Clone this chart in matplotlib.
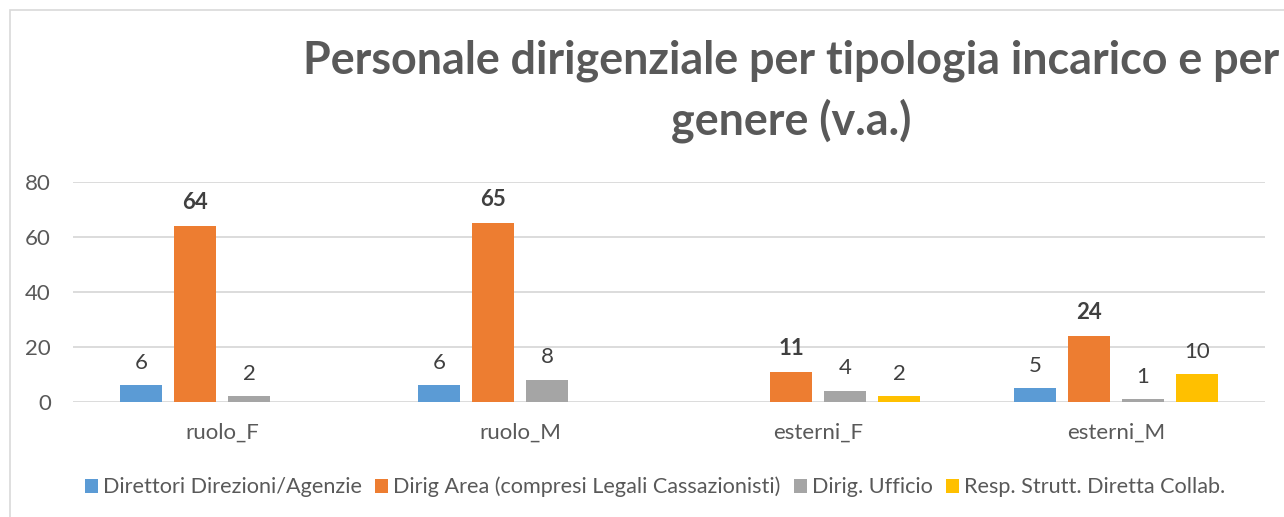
import numpy as np
import matplotlib
matplotlib.use("Agg")
import matplotlib.pyplot as plt
from matplotlib.patches import Rectangle, Patch

categories = ["ruolo_F", "ruolo_M", "esterni_F", "esterni_M"]
series_names = ["Direttori Direzioni/Agenzie",
                "Dirig Area (compresi Legali Cassazionisti)",
                "Dirig. Ufficio",
                "Resp. Strutt. Diretta Collab."]
direttori = [6, 6, np.nan, 5]
dirig_area = [64, 65, 11, 24]
dirig_ufficio = [2, 8, 4, 1]
resp_strutt = [np.nan, np.nan, 2, 10]
colors = ["#5B9BD5", "#ED7D31", "#A5A5A5", "#FFC000"]
bold_labels = [False, True, False, False]
yticks = [0, 20, 40, 60, 80]
title = "Personale dirigenziale per tipologia incarico e per\ngenere (v.a.)"

FONT = "Lato"
plt.rcParams["font.family"] = [FONT, "DejaVu Sans"]

W, H = 1284, 517
fig = plt.figure(figsize=(W / 100, H / 100), dpi=100)

# chart frame
fig.patches.append(Rectangle((10 / W, -0.1), 1.2, 1 - 10 / H + 0.1,
                             transform=fig.transFigure, fill=False,
                             edgecolor="#D9D9D9", linewidth=1.2))

ax = fig.add_axes([73 / W, (H - 402) / H, (1265 - 73) / W, (402 - 181.5) / H])
ax.set_xlim(-0.5, len(categories) - 0.5)
ax.set_ylim(0, 80)

data = [direttori, dirig_area, dirig_ufficio, resp_strutt]
x = np.arange(len(categories))
width = 0.141
step = 0.1815
offsets = (np.arange(4) - 1.5) * step
for i, (vals, col) in enumerate(zip(data, colors)):
    vals = np.array(vals, dtype=float)
    ax.bar(x + offsets[i], vals, width=width, color=col, zorder=3,
           label=series_names[i])
    for xi, v in zip(x + offsets[i], vals):
        if np.isnan(v):
            continue
        ax.annotate(f"{int(v)}", (xi, v), xytext=(0, 12), textcoords="offset points",
                    ha="center", va="baseline", fontsize=16, color="#404040",
                    fontweight="bold" if bold_labels[i] else "normal", zorder=4)

ax.set_yticks(yticks)
ax.set_xticks(x)
ax.set_xticklabels(categories)
ax.grid(axis="y", color="#D9D9D9", linewidth=1.3, zorder=0)
for s in ax.spines.values():
    s.set_visible(False)
ax.tick_params(axis="both", length=0, labelsize=16, labelcolor="#595959")
ax.tick_params(axis="y", pad=16)
ax.tick_params(axis="x", pad=15)

# title, fitted to reference width
t = fig.text(791 / W, 1 - 91 / H, title, ha="center", va="center",
             fontsize=28, fontweight="bold", color="#595959", linespacing=1.45)
fig.canvas.draw()
r = fig.canvas.get_renderer()
bb = t.get_window_extent(r)
t.set_fontsize(28 * 977 / bb.width)

handles = [Patch(facecolor=c, edgecolor="none") for c in colors]
leg_fs = 13.5
leg = fig.legend(handles, series_names, loc="center", bbox_to_anchor=(655 / W, 1 - 487 / H),
                 ncol=4, frameon=False, fontsize=leg_fs, handlelength=0.6, handleheight=0.6,
                 handletextpad=0.25, columnspacing=0.6, labelcolor="#595959")
fig.canvas.draw()
lw = leg.get_window_extent(r).width
leg.remove()
leg_fs = leg_fs * 1145 / (lw - 2 * 0.4 * leg_fs * 100 / 72 * 0.5)
fig.legend(handles, series_names, loc="center", bbox_to_anchor=(655 / W, 1 - 487 / H),
           ncol=4, frameon=False, fontsize=leg_fs, handlelength=0.6, handleheight=0.6,
           handletextpad=0.25, columnspacing=0.6, labelcolor="#595959")

fig.savefig("out.png", dpi=100)
